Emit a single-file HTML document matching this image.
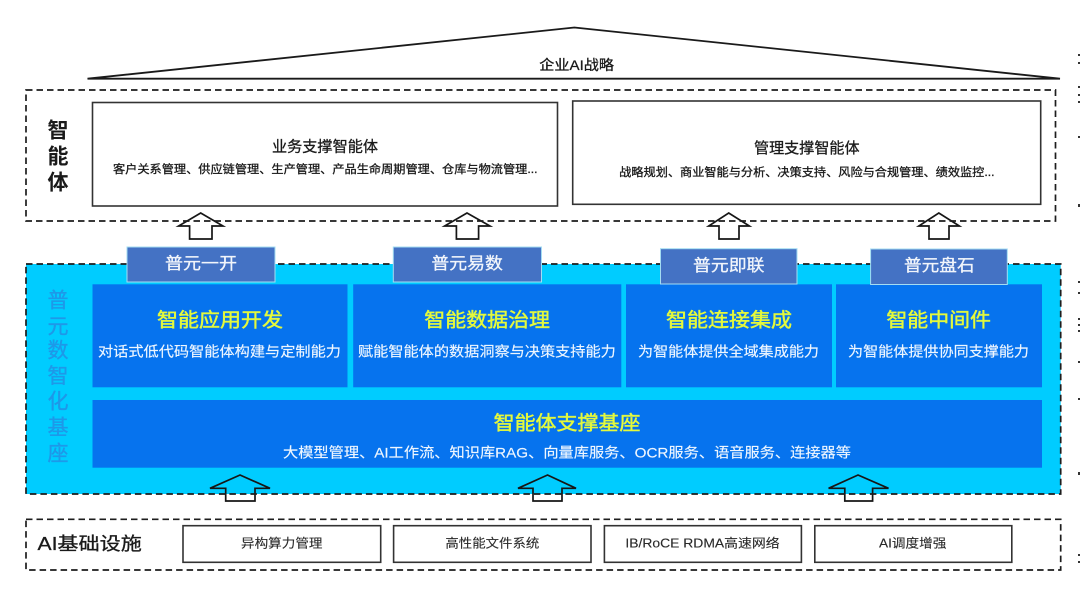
<!DOCTYPE html>
<html lang="zh">
<head>
<meta charset="utf-8">
<title>企业AI战略架构</title>
<style>
html,body{margin:0;padding:0;background:#fff;width:1080px;height:608px;overflow:hidden}
svg{display:block}
text{font-family:"Liberation Sans","Noto Sans CJK SC",sans-serif;white-space:pre}
.d{fill:none;stroke:#1d1d1d;stroke-width:1.7;stroke-dasharray:6.5 4}
.b{fill:#fff;stroke:#333;stroke-width:1.6}
.a{fill:none;stroke:#161616;stroke-width:1.7;stroke-linejoin:miter}
.blue{fill:#0673ee}
.lab{fill:#4472c4;stroke:#a4dcf2;stroke-width:1}
.k{fill:#1a1a1a;stroke:#1a1a1a;stroke-width:.3}
.w{fill:#eef6ff;stroke:#eef6ff;stroke-width:.15}
.y{fill:#e4f93c;stroke:#e4f93c;stroke-width:.45}
.lw{fill:#f1f5fb;stroke:#f1f5fb;stroke-width:.3}
.g{fill:#2a2a2a;stroke:#2a2a2a;stroke-width:.12}
.v{fill:#1a1a1a;font-size:21px;font-weight:700;text-anchor:middle}
.vb{fill:#1e98e8;stroke:#1e98e8;stroke-width:.35;font-size:21px;text-anchor:middle}
</style>
</head>
<body>
<svg width="1080" height="608" viewBox="0 0 1080 608" xmlns="http://www.w3.org/2000/svg">
<rect width="1080" height="608" fill="#fff"/>

<!-- roof -->
<path d="M87.5 78.7 H1060 L574.4 27.5 Z" fill="#fff" stroke="#1a1a1a" stroke-width="1.8" stroke-linejoin="bevel"/>
<text x="539.3" y="70" font-size="14" class="k" textLength="74.7" lengthAdjust="spacingAndGlyphs">企业AI战略</text>

<!-- agents layer -->
<rect class="b" x="92.5" y="102.5" width="465" height="103.5"/>
<rect class="b" x="572.7" y="101" width="468" height="103.3"/>
<text x="272" y="151.4" font-size="15" class="k" textLength="106" lengthAdjust="spacingAndGlyphs">业务支撑智能体</text>
<text x="113" y="172.9" font-size="11.5" class="k" textLength="424.5" lengthAdjust="spacingAndGlyphs">客户关系管理、供应链管理、生产管理、产品生命周期管理、仓库与物流管理...</text>
<text x="754" y="153.1" font-size="15" class="k" textLength="105.6" lengthAdjust="spacingAndGlyphs">管理支撑智能体</text>
<text x="619.2" y="176.1" font-size="11.5" class="k" textLength="375.3" lengthAdjust="spacingAndGlyphs">战略规划、商业智能与分析、决策支持、风险与合规管理、绩效监控...</text>
<text class="v" x="58" y="137.5">智</text>
<text class="v" x="58" y="163.5">能</text>
<text class="v" x="58" y="189.5">体</text>

<!-- upper arrows -->
<path class="a" d="M200.7 213 L223 226 H212 V239 H189.6 V226 H178.6 Z"/>
<path class="a" d="M467 213 L490 226 H478.6 V239 H456.4 V226 H444.6 Z"/>
<path class="a" d="M728.7 213 L749.4 226 H739 V239 H719 V226 H708.7 Z"/>
<path class="a" d="M938.8 213 L959.4 226 H949 V239 H929 V226 H918.8 Z"/>
<rect class="d" x="26" y="90" width="1029.5" height="131"/>

<!-- platform layer -->
<rect x="26" y="264" width="1034.7" height="230" fill="#00ccff"/>
<rect class="blue" x="92.5" y="284.3" width="255" height="103"/>
<rect class="blue" x="353.2" y="284.3" width="268.1" height="103"/>
<rect class="blue" x="626" y="284.3" width="206" height="103"/>
<rect class="blue" x="836" y="284.3" width="206" height="103"/>
<rect class="blue" x="92.5" y="400" width="949.5" height="67.7"/>

<text x="157" y="326.3" font-size="19.5" class="y" textLength="126" lengthAdjust="spacingAndGlyphs">智能应用开发</text>
<text x="424.3" y="326.3" font-size="19.5" class="y" textLength="125.7" lengthAdjust="spacingAndGlyphs">智能数据治理</text>
<text x="666" y="326.3" font-size="19.5" class="y" textLength="126" lengthAdjust="spacingAndGlyphs">智能连接集成</text>
<text x="886.4" y="326.3" font-size="19.5" class="y" textLength="104.6" lengthAdjust="spacingAndGlyphs">智能中间件</text>
<text x="493.6" y="429.7" font-size="19.5" class="y" textLength="146.9" lengthAdjust="spacingAndGlyphs">智能体支撑基座</text>

<text x="98" y="356.7" font-size="14" class="w" textLength="243" lengthAdjust="spacingAndGlyphs">对话式低代码智能体构建与定制能力</text>
<text x="358" y="356.7" font-size="14" class="w" textLength="257.8" lengthAdjust="spacingAndGlyphs">赋能智能体的数据洞察与决策支持能力</text>
<text x="638" y="356.7" font-size="14" class="w" textLength="181" lengthAdjust="spacingAndGlyphs">为智能体提供全域集成能力</text>
<text x="848" y="356.7" font-size="14" class="w" textLength="181" lengthAdjust="spacingAndGlyphs">为智能体提供协同支撑能力</text>
<text x="283" y="457.7" font-size="14" class="w" textLength="568" lengthAdjust="spacingAndGlyphs">大模型管理、AI工作流、知识库RAG、向量库服务、OCR服务、语音服务、连接器等</text>

<text class="vb" x="58" y="307.5">普</text>
<text class="vb" x="58" y="333.5">元</text>
<text class="vb" x="58" y="357.5">数</text>
<text class="vb" x="58" y="383">智</text>
<text class="vb" x="58" y="408.5">化</text>
<text class="vb" x="58" y="434.5">基</text>
<text class="vb" x="58" y="460.5">座</text>

<!-- lower arrows -->
<path class="a" d="M240 475 L270 488.3 H255 V501 H225.7 V488.3 H210 Z"/>
<path class="a" d="M547.5 475 L576 488.3 H562 V501 H533 V488.3 H518 Z"/>
<path class="a" d="M858 475 L888.5 488.3 H872.6 V501 H844.8 V488.3 H828.6 Z"/>
<rect class="d" x="26" y="264" width="1034.7" height="230"/>

<!-- product tabs -->
<rect class="lab" x="127" y="247" width="148" height="35"/>
<rect class="lab" x="393.3" y="247" width="148.2" height="35"/>
<rect class="lab" x="660.5" y="248.7" width="136.5" height="35.3"/>
<rect class="lab" x="870.6" y="249" width="136.7" height="35.5"/>
<text x="165" y="269" font-size="16.5" class="lw" textLength="72" lengthAdjust="spacingAndGlyphs">普元一开</text>
<text x="431.4" y="269" font-size="16.5" class="lw" textLength="71.5" lengthAdjust="spacingAndGlyphs">普元易数</text>
<text x="693" y="271" font-size="16.5" class="lw" textLength="71.5" lengthAdjust="spacingAndGlyphs">普元即联</text>
<text x="904" y="271" font-size="16.5" class="lw" textLength="70.6" lengthAdjust="spacingAndGlyphs">普元盘石</text>

<!-- infrastructure -->
<rect class="d" x="26" y="519.3" width="1034.7" height="50.7"/>
<text x="37.5" y="549.8" font-size="18" class="k" textLength="104.3" lengthAdjust="spacingAndGlyphs">AI基础设施</text>
<rect class="b" x="183" y="525.7" width="197.7" height="36.6"/>
<rect class="b" x="393.6" y="525.7" width="197.4" height="36.6"/>
<rect class="b" x="604.4" y="525.7" width="197" height="36.6"/>
<rect class="b" x="814.8" y="525.7" width="197" height="36.6"/>
<text x="241" y="547.7" font-size="12.5" class="g" textLength="81.5" lengthAdjust="spacingAndGlyphs">异构算力管理</text>
<text x="445.4" y="547.7" font-size="12.5" class="g" textLength="93.9" lengthAdjust="spacingAndGlyphs">高性能文件系统</text>
<text x="625.4" y="547.7" font-size="12.5" class="g" textLength="154.3" lengthAdjust="spacingAndGlyphs">IB/RoCE RDMA高速网络</text>
<text x="879" y="547.7" font-size="12.5" class="g" textLength="67.4" lengthAdjust="spacingAndGlyphs">AI调度增强</text>

<!-- clipped marks at right edge -->
<g fill="#333">
<rect x="1078" y="54" width="2" height="2"/>
<rect x="1078" y="62" width="2" height="2"/>
<rect x="1078" y="86" width="2" height="2"/>
<rect x="1078" y="94" width="2" height="2"/>
<rect x="1078" y="101" width="2" height="2"/>
<rect x="1078" y="136" width="2" height="2"/>
<rect x="1078" y="204" width="2" height="3"/>
<rect x="1078" y="281" width="2" height="2"/>
<rect x="1078" y="292" width="2" height="2"/>
<rect x="1078" y="318" width="2" height="2"/>
<rect x="1078" y="324" width="2" height="2"/>
<rect x="1078" y="330" width="2" height="2"/>
<rect x="1078" y="361" width="2" height="2"/>
<rect x="1078" y="398" width="2" height="2"/>
<rect x="1078" y="472" width="2" height="3"/>
<rect x="1078" y="554" width="2" height="2"/>
<rect x="1078" y="561" width="2" height="2"/>
</g>
</svg>
</body>
</html>
